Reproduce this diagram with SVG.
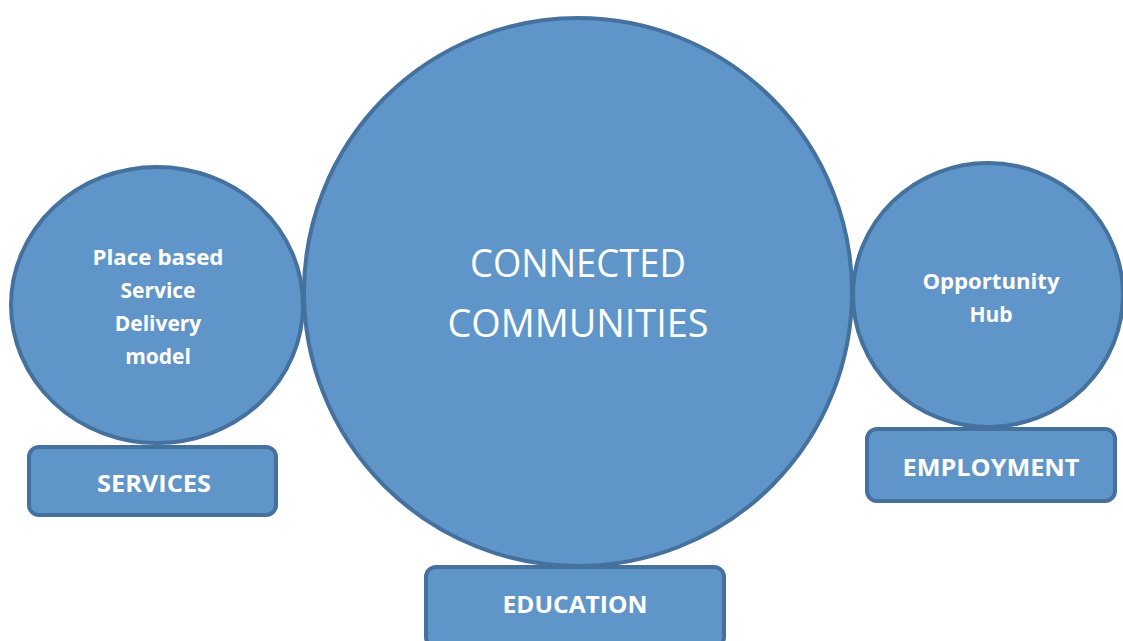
<svg xmlns="http://www.w3.org/2000/svg" width="1123" height="641" viewBox="0 0 1123 641">
<style>
.shape{fill:#5F95C9;stroke:#44719E;stroke-width:4}
.t{fill:#FFFFFF;font-family:"Open Sans","Liberation Sans",sans-serif;font-weight:bold;text-anchor:middle}
.big{fill:#FFFFFF;font-family:"Open Sans","Liberation Sans",sans-serif;font-weight:normal;text-anchor:middle;font-size:38px}
</style>
<rect width="1123" height="641" fill="#FFFFFF"/>
<g id="node-place-based">
<ellipse class="shape" cx="157" cy="305" rx="146" ry="138"/>
<text class="t" font-size="21" x="158" y="265" textLength="131" lengthAdjust="spacingAndGlyphs">Place based</text>
<text class="t" font-size="21" x="158" y="298">Service</text>
<text class="t" font-size="21" x="158" y="331">Delivery</text>
<text class="t" font-size="21" x="158" y="364">model</text>
</g>
<g id="node-opportunity-hub">
<ellipse class="shape" cx="988" cy="295" rx="135" ry="132"/>
<text class="t" font-size="21" x="991" y="289" textLength="137" lengthAdjust="spacingAndGlyphs">Opportunity</text>
<text class="t" font-size="21" x="991" y="322">Hub</text>
</g>
<g id="node-connected-communities">
<circle class="shape" cx="578" cy="292" r="274"/>
<text class="big" x="578" y="277" textLength="216" lengthAdjust="spacingAndGlyphs">CONNECTED</text>
<text class="big" x="578" y="337" textLength="261" lengthAdjust="spacingAndGlyphs">COMMUNITIES</text>
</g>
<g id="node-services">
<rect class="shape" x="29" y="447" width="247" height="68" rx="10"/>
<text class="t" font-size="24" x="154" y="492" textLength="114" lengthAdjust="spacingAndGlyphs">SERVICES</text>
</g>
<g id="node-employment">
<rect class="shape" x="867" y="429" width="248" height="72" rx="10"/>
<text class="t" font-size="24" x="991" y="476" textLength="177" lengthAdjust="spacingAndGlyphs">EMPLOYMENT</text>
</g>
<g id="node-education">
<rect class="shape" x="426" y="567" width="298" height="80" rx="10"/>
<text class="t" font-size="24" x="575" y="613" textLength="145" lengthAdjust="spacingAndGlyphs">EDUCATION</text>
</g>
<g id="connectors"></g>
</svg>
